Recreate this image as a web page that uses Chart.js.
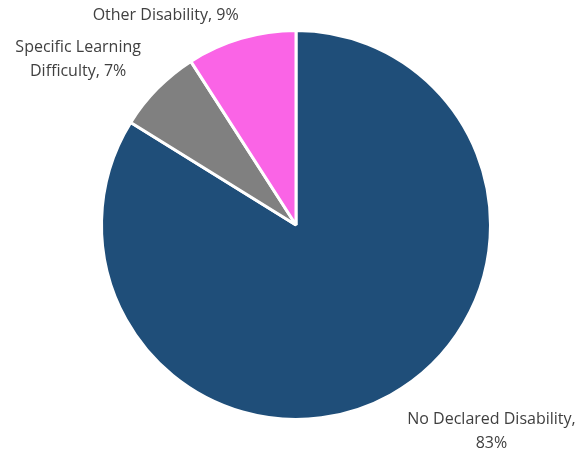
<!DOCTYPE html>
<html>
<head>
<meta charset="utf-8">
<script src="https://cdn.jsdelivr.net/npm/chart.js@4"></script>
<style>
    html, body { margin: 0; padding: 0; background: #fff; }
    #wrap { width: 577px; height: 452px; }
</style>
</head>
<body>
<div id="wrap"><canvas id="chart" width="577" height="452"></canvas></div>
<script>
const categories = ['No Declared Disability', 'Specific Learning Difficulty', 'Other Disability'];
const shares = [83, 7, 9];
const sliceColors = ['#1F4E79', '#808080', '#FA64E6'];

// label text lines, one list per slice
const labelLines = [
    ['No Declared Disability,', '83%'],
    ['Specific Learning', 'Difficulty, 7%'],
    ['Other Disability, 9%'],
];

// where each label sits, relative to the pie centre, in units of the radius
const labelAnchors = [
    {x: 1.005, y: 1.06},
    {x: -1.12, y: -0.85},
    {x: -0.67, y: -1.077},
];

const outsideLabels = {
    id: 'outsideLabels',
    afterDatasetsDraw(chart) {
        const ctx = chart.ctx;
        const meta = chart.getDatasetMeta(0);
        ctx.save();
        ctx.font = '16px "Open Sans"';
        ctx.fillStyle = '#404040';
        ctx.textAlign = 'center';
        ctx.textBaseline = 'middle';
        meta.data.forEach((arc, i) => {
            const r = arc.outerRadius;
            const cx = arc.x + labelAnchors[i].x * r;
            const cy = arc.y + labelAnchors[i].y * r;
            const lines = labelLines[i];
            const lh = 24;
            lines.forEach((t, j) => {
                ctx.fillText(t, cx, cy + (j - (lines.length - 1) / 2) * lh);
            });
        });
        ctx.restore();
    }
};

new Chart(document.getElementById('chart').getContext('2d'), {
    type: 'pie',
    data: {
        labels: categories,
        datasets: [{
            data: shares,
            backgroundColor: sliceColors,
            borderColor: '#ffffff',
            borderWidth: 3,
        }],
    },
    options: {
        responsive: false,
        animation: false,
        layout: {
            padding: {left: 100, right: 85, top: 29, bottom: 31},
        },
        plugins: {
            legend: {display: false},
            tooltip: {enabled: false},
        },
    },
    plugins: [outsideLabels],
});
</script>
</body>
</html>
